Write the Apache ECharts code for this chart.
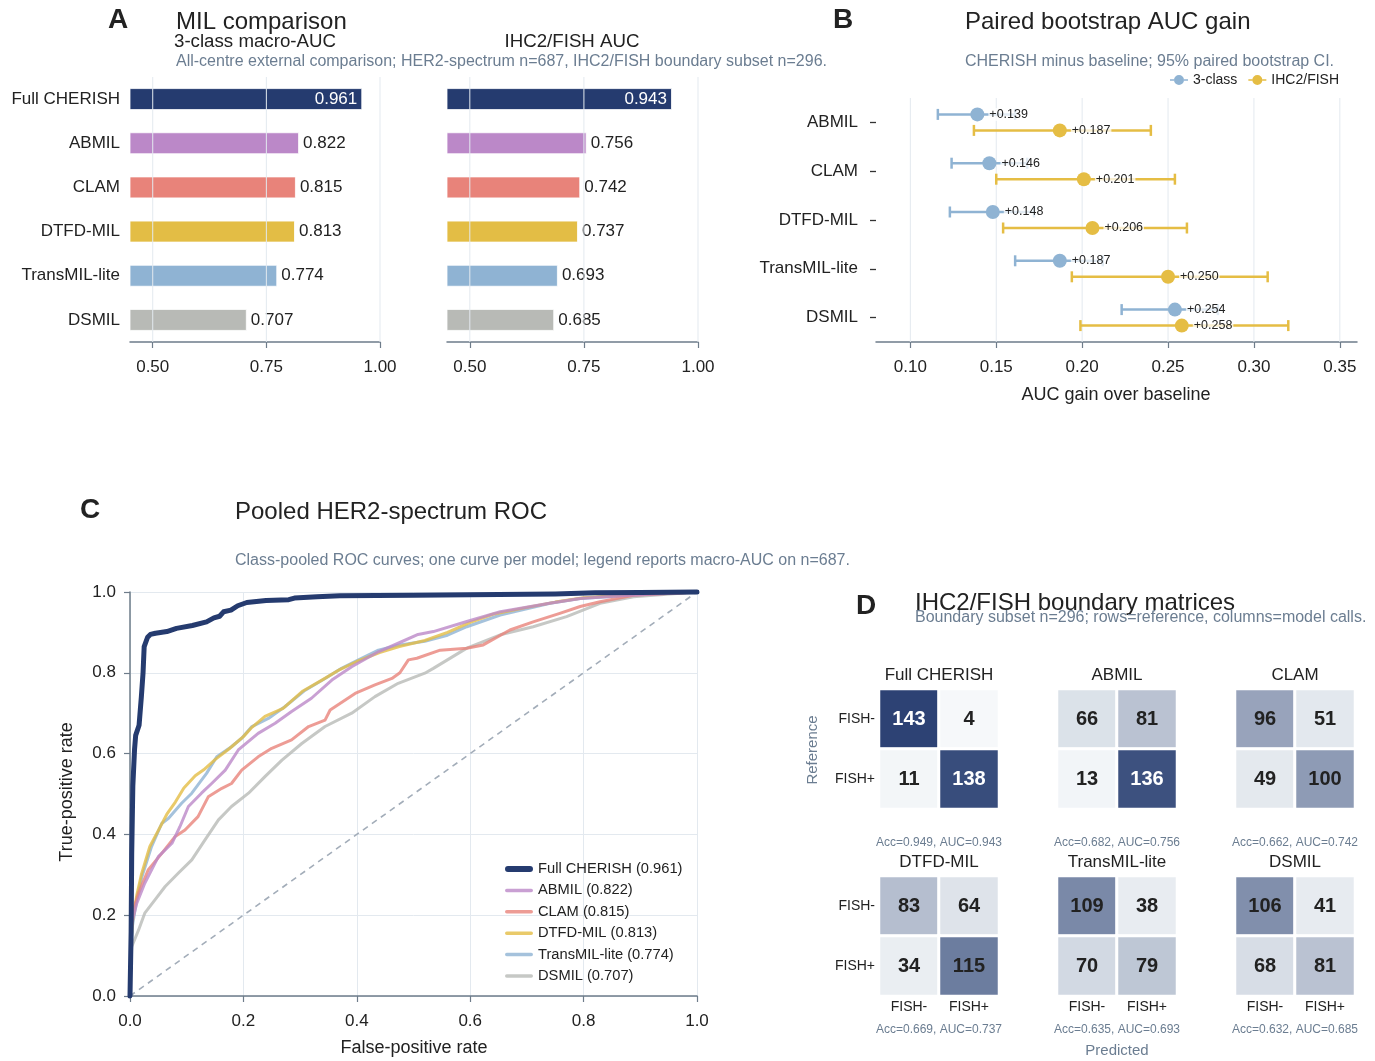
<!DOCTYPE html>
<html>
<head>
<meta charset="utf-8">
<script src="https://cdn.jsdelivr.net/npm/echarts@6/dist/echarts.min.js"></script>
<style>
  html, body { margin: 0; padding: 0; background: #ffffff; }
  #chart { width: 1375px; height: 1061px; }
</style>
</head>
<body>
<div id="chart"></div>
<script>
// ---------- Panel A: MIL comparison ----------
const models = ['Full CHERISH', 'ABMIL', 'CLAM', 'DTFD-MIL', 'TransMIL-lite', 'DSMIL'];
const macroAuc = [0.961, 0.822, 0.815, 0.813, 0.774, 0.707];
const ihcAuc = [0.943, 0.756, 0.742, 0.737, 0.693, 0.685];
const aucTicks = [0.50, 0.75, 1.00];

// ---------- Panel B: paired bootstrap AUC gain ----------
const baselines = ['ABMIL', 'CLAM', 'DTFD-MIL', 'TransMIL-lite', 'DSMIL'];
const gain3 = [0.139, 0.146, 0.148, 0.187, 0.254];
const gain3Lo = [0.116, 0.124, 0.123, 0.161, 0.223];
const gain3Hi = [0.161, 0.168, 0.172, 0.212, 0.279];
const gainIhc = [0.187, 0.201, 0.206, 0.250, 0.258];
const gainIhcLo = [0.137, 0.150, 0.154, 0.194, 0.199];
const gainIhcHi = [0.240, 0.254, 0.261, 0.308, 0.320];
const gainTicks = [0.10, 0.15, 0.20, 0.25, 0.30, 0.35];

// ---------- Panel C: pooled ROC curves [FPR, TPR] ----------
const rocFull = [[0,0],[0.002,0.16],[0.003,0.35],[0.005,0.52],[0.008,0.61],[0.010,0.645],[0.016,0.67],[0.020,0.74],[0.023,0.80],[0.025,0.865],[0.031,0.888],[0.036,0.895],[0.045,0.898],[0.065,0.902],[0.082,0.910],[0.110,0.917],[0.135,0.926],[0.148,0.936],[0.158,0.940],[0.165,0.951],[0.178,0.955],[0.190,0.966],[0.206,0.974],[0.240,0.979],[0.280,0.981],[0.290,0.985],[0.330,0.988],[0.370,0.991],[0.500,0.992],[0.600,0.993],[0.750,0.995],[0.820,0.998],[0.900,0.999],[1,1]];
const rocAbmil = [[0,0],[0.002,0.12],[0.003,0.18],[0.012,0.23],[0.026,0.279],[0.050,0.345],[0.074,0.378],[0.088,0.419],[0.103,0.469],[0.126,0.502],[0.144,0.526],[0.168,0.559],[0.191,0.609],[0.226,0.650],[0.256,0.675],[0.285,0.704],[0.320,0.737],[0.356,0.782],[0.391,0.815],[0.438,0.852],[0.476,0.875],[0.508,0.895],[0.535,0.902],[0.594,0.927],[0.653,0.951],[0.740,0.972],[0.794,0.984],[0.880,0.992],[1,1]];
const rocClam = [[0,0],[0.002,0.15],[0.004,0.205],[0.015,0.254],[0.032,0.312],[0.056,0.353],[0.079,0.394],[0.097,0.411],[0.120,0.444],[0.138,0.493],[0.162,0.514],[0.179,0.526],[0.197,0.559],[0.226,0.592],[0.250,0.613],[0.285,0.634],[0.315,0.667],[0.344,0.683],[0.353,0.708],[0.397,0.749],[0.432,0.770],[0.462,0.786],[0.476,0.800],[0.491,0.832],[0.506,0.836],[0.547,0.856],[0.594,0.861],[0.623,0.869],[0.670,0.906],[0.711,0.926],[0.758,0.947],[0.794,0.964],[0.829,0.976],[0.888,0.992],[1,1]];
const rocDtfd = [[0,0],[0.002,0.13],[0.004,0.18],[0.012,0.25],[0.020,0.30],[0.035,0.37],[0.050,0.41],[0.065,0.45],[0.080,0.48],[0.095,0.515],[0.115,0.545],[0.130,0.560],[0.150,0.585],[0.175,0.612],[0.200,0.642],[0.215,0.665],[0.238,0.692],[0.270,0.712],[0.305,0.755],[0.340,0.783],[0.370,0.808],[0.400,0.828],[0.440,0.850],[0.475,0.865],[0.520,0.880],[0.560,0.900],[0.600,0.925],[0.640,0.945],[0.700,0.962],[0.750,0.975],[0.800,0.986],[0.880,0.993],[1,1]];
const rocTrans = [[0,0],[0.002,0.12],[0.004,0.17],[0.012,0.24],[0.021,0.295],[0.038,0.37],[0.056,0.427],[0.068,0.44],[0.091,0.477],[0.109,0.502],[0.135,0.551],[0.153,0.592],[0.179,0.617],[0.197,0.638],[0.215,0.667],[0.244,0.687],[0.273,0.716],[0.309,0.757],[0.344,0.786],[0.373,0.811],[0.403,0.832],[0.438,0.856],[0.473,0.868],[0.520,0.878],[0.560,0.893],[0.594,0.914],[0.653,0.943],[0.741,0.972],[0.794,0.984],[0.882,0.992],[1,1]];
const rocDsmil = [[0,0],[0.001,0.06],[0.003,0.122],[0.015,0.163],[0.026,0.205],[0.044,0.238],[0.062,0.271],[0.085,0.304],[0.109,0.337],[0.132,0.386],[0.156,0.436],[0.179,0.469],[0.209,0.502],[0.238,0.543],[0.268,0.584],[0.303,0.625],[0.344,0.667],[0.391,0.700],[0.432,0.741],[0.473,0.774],[0.520,0.799],[0.535,0.811],[0.594,0.861],[0.653,0.894],[0.711,0.914],[0.770,0.939],[0.829,0.972],[0.888,0.988],[1,1]];

// ---------- Panel D: IHC2/FISH boundary confusion matrices ----------
const fishLabels = ['FISH-', 'FISH+'];
const matFull = [[143, 4], [11, 138]];
const matAbmil = [[66, 81], [13, 136]];
const matClam = [[96, 51], [49, 100]];
const matDtfd = [[83, 64], [34, 115]];
const matTrans = [[109, 38], [70, 79]];
const matDsmil = [[106, 41], [68, 81]];
const matrixAcc = [0.949, 0.682, 0.662, 0.669, 0.635, 0.632];
const matrixAuc = [0.943, 0.756, 0.742, 0.737, 0.693, 0.685];

// ---------- styling ----------
const FONT = '"Liberation Sans", Arial, Helvetica, sans-serif';
const INK = '#222222';
const MUTED = '#6b7d91';
const AXIS = '#6e7c8a';
const GRIDC = '#e3e9ef';
const modelColors = ['#253b6f', '#bb88c8', '#e8837a', '#e3bd45', '#8fb3d3', '#b8bab6'];
const COL3 = '#8fb3d3';
const COLIHC = '#e5bd44';

const chart = echarts.init(document.getElementById('chart'), null, { renderer: 'canvas' });

function txt(x, y, text, size, opt) {
  opt = opt || {};
  return {
    type: 'text', x: x, y: y, rotation: opt.rotation || 0, silent: true,
    style: {
      text: text, fill: opt.color || INK,
      fontSize: size, fontFamily: FONT, fontWeight: opt.weight || 'normal',
      align: opt.align || 'left', verticalAlign: 'middle'
    }
  };
}

// vertical reference lines through the whole plot height
function vLineRender(color) {
  return function (params, api) {
    const x = api.coord([api.value(0), 0])[0];
    const cs = params.coordSys;
    return { type: 'line', shape: { x1: x, y1: cs.y, x2: x, y2: cs.y + cs.height },
      style: { stroke: color, lineWidth: 1 } };
  };
}

// horizontal error bar with caps, shifted vertically from the category centre
function errRender(offset) {
  return function (params, api) {
    const lo = api.coord([api.value(0), api.value(2)]);
    const hi = api.coord([api.value(1), api.value(2)]);
    const y = lo[1] + offset;
    const st = { stroke: api.visual('color'), lineWidth: 2.5 };
    return { type: 'group', children: [
      { type: 'line', shape: { x1: lo[0], y1: y, x2: hi[0], y2: y }, style: st },
      { type: 'line', shape: { x1: lo[0], y1: y - 5.5, x2: lo[0], y2: y + 5.5 }, style: st },
      { type: 'line', shape: { x1: hi[0], y1: y - 5.5, x2: hi[0], y2: y + 5.5 }, style: st }
    ] };
  };
}

// legend line swatch of a given stroke thickness inside a 28x14 box
function swatch(thick) {
  const y0 = (7 - thick / 2).toFixed(2);
  return 'path://M0,0h0.01v0.01h-0.01z M27.99,13.99h0.01v0.01h-0.01z M' + (thick / 2) + ',' + y0 +
    'h' + (28 - thick) + 'a' + (thick / 2) + ',' + (thick / 2) + ' 0 0,1 0,' + thick +
    'h-' + (28 - thick) + 'a' + (thick / 2) + ',' + (thick / 2) + ' 0 0,1 0,-' + thick + 'z';
}

const grids = [];
const xAxes = [];
const yAxes = [];
const series = [];

// ----- Panel A grids -----
const aGrids = [{ left: 130, width: 250 }, { left: 447, width: 251 }];
const aData = [macroAuc, ihcAuc];
aGrids.forEach(function (g, gi) {
  grids.push({ left: g.left, top: 77, width: g.width, height: 265 });
  xAxes.push({
    type: 'value', gridIndex: gi, min: 0.45, max: 1.0,
    axisLine: { show: true, lineStyle: { color: AXIS, width: 1.5 } },
    axisTick: { show: true, length: 6, customValues: aucTicks, lineStyle: { color: AXIS, width: 1.2 } },
    axisLabel: { customValues: aucTicks, formatter: function (v) { return v.toFixed(2); },
      fontSize: 17, fontFamily: FONT, color: INK, margin: 17 },
    splitLine: { show: false }
  });
  yAxes.push({
    type: 'category', gridIndex: gi, data: models, inverse: true,
    axisLine: { show: false }, axisTick: { show: false },
    axisLabel: { show: gi === 0, fontSize: 17, fontFamily: FONT, color: INK, margin: 10 }
  });
  series.push({
    type: 'bar', xAxisIndex: gi, yAxisIndex: gi, barWidth: 22,
    data: aData[gi].map(function (v, i) {
      return {
        value: v,
        itemStyle: { color: modelColors[i], borderColor: 'rgba(255,255,255,0.8)', borderWidth: 1 },
        label: i === 0 ? { position: 'insideRight', color: '#ffffff', distance: 5 } : { position: 'right', color: INK, distance: 4 }
      };
    }),
    label: { show: true, fontSize: 17, fontFamily: FONT, formatter: function (p) { return p.value.toFixed(3); } },
    emphasis: { disabled: true }, animation: false
  });
  series.push({
    type: 'custom', xAxisIndex: gi, yAxisIndex: gi, z: 4, silent: true,
    renderItem: vLineRender(GRIDC), data: aucTicks.map(function (v) { return [v, 0]; }),
    encode: { x: 0 }, animation: false
  });
});

// ----- Panel B grid -----
grids.push({ left: 876, top: 98, width: 481, height: 244 });
xAxes.push({
  type: 'value', gridIndex: 2, min: 0.08, max: 0.36,
  axisLine: { show: true, lineStyle: { color: AXIS, width: 1.5 } },
  axisTick: { show: true, length: 6, customValues: gainTicks, lineStyle: { color: AXIS, width: 1.2 } },
  axisLabel: { customValues: gainTicks, formatter: function (v) { return v.toFixed(2); },
    fontSize: 17, fontFamily: FONT, color: INK, margin: 17 },
  splitLine: { show: false }
});
yAxes.push({
  type: 'category', gridIndex: 2, data: baselines, inverse: true,
  axisLine: { show: false },
  axisTick: { show: true, alignWithLabel: true, length: 6, lineStyle: { color: '#333', width: 1.3 } },
  axisLabel: { fontSize: 17, fontFamily: FONT, color: INK, margin: 18 }
});
series.push({
  type: 'custom', xAxisIndex: 2, yAxisIndex: 2, z: 1, silent: true,
  renderItem: vLineRender(GRIDC), data: gainTicks.map(function (v) { return [v, 0]; }),
  encode: { x: 0 }, animation: false
});
series.push({
  type: 'custom', name: '3-class CI', xAxisIndex: 2, yAxisIndex: 2, silent: true,
  itemStyle: { color: COL3 }, renderItem: errRender(-8),
  data: baselines.map(function (b, i) { return [gain3Lo[i], gain3Hi[i], i]; }),
  encode: { x: [0, 1], y: 2 }, animation: false
});
series.push({
  type: 'custom', name: 'IHC2/FISH CI', xAxisIndex: 2, yAxisIndex: 2, silent: true,
  itemStyle: { color: COLIHC }, renderItem: errRender(8),
  data: baselines.map(function (b, i) { return [gainIhcLo[i], gainIhcHi[i], i]; }),
  encode: { x: [0, 1], y: 2 }, animation: false
});
[['3-class', gain3, COL3, -8], ['IHC2/FISH', gainIhc, COLIHC, 8]].forEach(function (s) {
  series.push({
    type: 'scatter', name: s[0], xAxisIndex: 2, yAxisIndex: 2,
    symbol: 'circle', symbolSize: 14, symbolOffset: [0, s[3]],
    itemStyle: { color: s[2], opacity: 1 },
    data: s[1].map(function (v, i) { return [v, i]; }),
    label: {
      show: true, position: 'right', distance: 4, fontSize: 12.5, fontFamily: FONT, color: INK,
      backgroundColor: 'rgba(255,255,255,0.75)', padding: [0, 1],
      formatter: function (p) { return '+' + p.value[0].toFixed(3); }
    },
    emphasis: { disabled: true }, animation: false
  });
});

// ----- Panel C grid -----
grids.push({ left: 130, top: 592, width: 567, height: 404 });
xAxes.push({
  type: 'value', gridIndex: 3, min: 0, max: 1, interval: 0.2,
  axisLine: { show: true, onZero: false, lineStyle: { color: AXIS, width: 1.5 } },
  axisTick: { show: true, length: 6, lineStyle: { color: AXIS, width: 1.2 } },
  axisLabel: { formatter: function (v) { return v.toFixed(1); }, fontSize: 17, fontFamily: FONT, color: INK, margin: 17 },
  splitLine: { show: true, lineStyle: { color: GRIDC, width: 1 } }
});
yAxes.push({
  type: 'value', gridIndex: 3, min: 0, max: 1, interval: 0.2,
  axisLine: { show: true, onZero: false, lineStyle: { color: AXIS, width: 1.5 } },
  axisTick: { show: true, length: 6, lineStyle: { color: AXIS, width: 1.2 } },
  axisLabel: { formatter: function (v) { return v.toFixed(1); }, fontSize: 17, fontFamily: FONT, color: INK, margin: 14 },
  splitLine: { show: true, lineStyle: { color: GRIDC, width: 1 } }
});
series.push({
  type: 'line', xAxisIndex: 3, yAxisIndex: 3, data: [[0, 0], [1, 1]], symbol: 'none', silent: true,
  lineStyle: { color: '#a3adb9', width: 1.6, type: [6, 5] }, animation: false, z: 1
});
const rocCurves = [rocFull, rocAbmil, rocClam, rocDtfd, rocTrans, rocDsmil];
const rocNames = models.map(function (m, i) { return m + ' (' + macroAuc[i].toFixed(3) + ')'; });
// baselines first so the full model sits on top
[5, 4, 3, 2, 1, 0].forEach(function (i) {
  series.push({
    type: 'line', name: rocNames[i], xAxisIndex: 3, yAxisIndex: 3, data: rocCurves[i],
    symbol: 'none', showSymbol: false, clip: false,
    lineStyle: { color: modelColors[i], width: i === 0 ? 5 : 3, opacity: i === 0 ? 1 : 0.8, join: 'round', cap: 'round' },
    itemStyle: { color: modelColors[i], opacity: i === 0 ? 1 : 0.8 },
    emphasis: { disabled: true }, animation: false, z: i === 0 ? 4 : 3
  });
});

// ----- Panel D grids -----
const mats = [matFull, matAbmil, matClam, matDtfd, matTrans, matDsmil];
const matCentres = [939, 1117, 1295];
const matTops = [689, 876];
const heatSeries = [];
mats.forEach(function (m, k) {
  const row = Math.floor(k / 3), col = k % 3;
  const gi = 4 + k;
  grids.push({ left: matCentres[col] - 60, top: matTops[row], width: 120, height: 120 });
  xAxes.push({
    type: 'category', gridIndex: gi, data: fishLabels, position: 'bottom',
    axisLine: { show: false }, axisTick: { show: false }, splitLine: { show: false },
    axisLabel: { show: row === 1, fontSize: 14, fontFamily: FONT, color: INK, margin: 4 }
  });
  yAxes.push({
    type: 'category', gridIndex: gi, data: fishLabels, inverse: true,
    axisLine: { show: false }, axisTick: { show: false }, splitLine: { show: false },
    axisLabel: { show: col === 0, fontSize: 14, fontFamily: FONT, color: INK, margin: 4 }
  });
  const cells = [];
  m.forEach(function (r, ri) {
    r.forEach(function (v, ci) {
      cells.push({ value: [ci, ri, v], label: { color: v > 120 ? '#ffffff' : INK } });
    });
  });
  heatSeries.push(series.length);
  series.push({
    type: 'heatmap', xAxisIndex: gi, yAxisIndex: gi, data: cells,
    itemStyle: { borderColor: '#ffffff', borderWidth: 3 },
    label: { show: true, fontSize: 20, fontWeight: 'bold', fontFamily: FONT,
      formatter: function (p) { return String(p.value[2]); } },
    emphasis: { disabled: true }, animation: false
  });
});

// ----- text -----
const graphics = [
  // A
  txt(118, 20, 'A', 28, { weight: 'bold', align: 'center' }),
  txt(176, 22, 'MIL comparison', 24),
  txt(255, 42, '3-class macro-AUC', 18.7, { align: 'center' }),
  txt(572, 42, 'IHC2/FISH AUC', 18.7, { align: 'center' }),
  txt(176, 62, 'All-centre external comparison; HER2-spectrum n=687, IHC2/FISH boundary subset n=296.', 16, { color: MUTED }),
  // B
  txt(843, 20, 'B', 28, { weight: 'bold', align: 'center' }),
  txt(965, 22, 'Paired bootstrap AUC gain', 24),
  txt(965, 62, 'CHERISH minus baseline; 95% paired bootstrap CI.', 16, { color: MUTED }),
  txt(1116, 395, 'AUC gain over baseline', 18, { align: 'center' }),
  // C
  txt(90, 510, 'C', 28, { weight: 'bold', align: 'center' }),
  txt(235, 512, 'Pooled HER2-spectrum ROC', 24),
  txt(235, 561, 'Class-pooled ROC curves; one curve per model; legend reports macro-AUC on n=687.', 16, { color: MUTED }),
  txt(414, 1048, 'False-positive rate', 18, { align: 'center' }),
  txt(67, 792, 'True-positive rate', 18, { align: 'center', rotation: Math.PI / 2 }),
  // D
  txt(866, 606, 'D', 28, { weight: 'bold', align: 'center' }),
  txt(915, 603, 'IHC2/FISH boundary matrices', 24),
  txt(915, 618, 'Boundary subset n=296; rows=reference, columns=model calls.', 16, { color: MUTED }),
  txt(813, 750, 'Reference', 15, { align: 'center', rotation: Math.PI / 2, color: MUTED }),
  txt(1117, 1051, 'Predicted', 15, { align: 'center', color: MUTED })
];
const titleRowsY = [675, 862];
const accRowsY = [843, 1030];
models.forEach(function (m, k) {
  const row = Math.floor(k / 3), col = k % 3;
  graphics.push(txt(matCentres[col], titleRowsY[row], m, 17, { align: 'center' }));
  graphics.push(txt(matCentres[col], accRowsY[row],
    'Acc=' + matrixAcc[k].toFixed(3) + ', AUC=' + matrixAuc[k].toFixed(3), 12, { align: 'center', color: MUTED }));
});

const option = {
  backgroundColor: '#ffffff',
  animation: false,
  textStyle: { fontFamily: FONT },
  grid: grids,
  xAxis: xAxes,
  yAxis: yAxes,
  visualMap: {
    type: 'continuous', show: false, min: 0, max: 147, seriesIndex: heatSeries, dimension: 2,
    inRange: { color: ['#f7f9fb', '#f1f4f7', '#eaeef2', '#e4e9ee', '#dde3ea', '#b8c1d1', '#939fb8', '#6e7ea0', '#495c87', '#243a6e'] }
  },
  legend: [
    {
      data: ['3-class', 'IHC2/FISH'], left: 1170, top: 73, orient: 'horizontal',
      itemWidth: 18, itemHeight: 10, itemGap: 11, padding: 0,
      icon: 'path://M0,4.3h4v1.4h-4z M14,4.3h4v1.4h-4z M4,5a5,5 0 1,0 10,0a5,5 0 1,0 -10,0z',
      textStyle: { fontSize: 14, fontFamily: FONT, color: INK }, selectedMode: false
    },
    {
      data: rocNames.map(function (n, i) { return { name: n, icon: swatch(i === 0 ? 6 : 3.5) }; }),
      left: 505, top: 861, orient: 'vertical',
      itemWidth: 28, itemHeight: 14, itemGap: 5.4, padding: 0,
      textStyle: { fontSize: 14.7, fontFamily: FONT, color: INK, lineHeight: 16 },
      selectedMode: false
    }
  ],
  graphic: graphics,
  series: series
};
chart.setOption(option);
</script>
</body>
</html>
